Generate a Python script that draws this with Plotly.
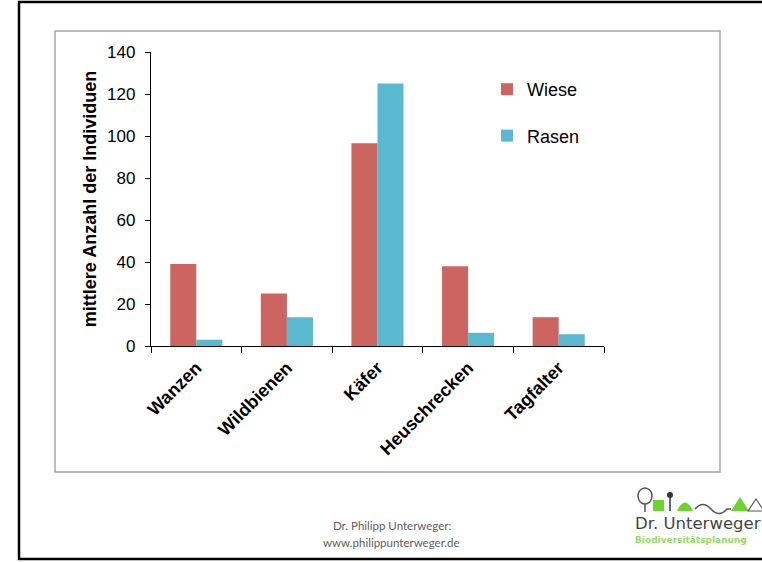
import plotly.graph_objects as go

# ---- data ----
categories = ["Wanzen", "Wildbienen", "Käfer", "Heuschrecken", "Tagfalter"]
wiese = [39, 25, 96.5, 38, 13.7]
rasen = [3, 13.7, 125, 6.3, 5.6]
series_names = ["Wiese", "Rasen"]
y_ticks = [0, 20, 40, 60, 80, 100, 120, 140]
y_title = "mittlere Anzahl der Individuen"
footer_lines = ["Dr. Philipp Unterweger:", "www.philippunterweger.de"]
logo_name = "Dr. Unterweger"
logo_sub = "Biodiversitätsplanung"

# ---- geometry ----
W, H = 762, 562
L, R, T, B = 151, 158, 52, 216
PW, PH = W - L - R, H - T - B


def px(x):
    return (x - L) / PW


def py(y):
    return (H - B - y) / PH


FONT = "Liberation Sans, Arial, sans-serif"
RED = "#CC6560"
BLUE = "#5BB8D1"

fig = go.Figure()
fig.add_trace(go.Bar(x=categories, y=wiese, name=series_names[0],
                     marker=dict(color=RED, line=dict(width=0)),
                     legendgroup="a"))
fig.add_trace(go.Bar(x=categories, y=rasen, name=series_names[1],
                     marker=dict(color=BLUE, line=dict(width=0)),
                     legendgroup="b"))

shapes = []
# outer slide frame (black)
shapes.append(dict(type="rect", xref="paper", yref="paper",
                   x0=px(19), x1=px(820), y0=py(559), y1=py(2),
                   line=dict(color="black", width=2.5), layer="below"))
# inner chart box (gray)
shapes.append(dict(type="rect", xref="paper", yref="paper",
                   x0=px(55), x1=px(720), y0=py(472), y1=py(31),
                   line=dict(color="#A6A6A6", width=1.5), layer="below"))

# logo approximation (decoration)
GREEN = "#6CD42C"
GRAY = "#555555"
shapes += [
    dict(type="circle", xref="paper", yref="paper",
         x0=px(638), x1=px(652), y0=py(504), y1=py(488),
         line=dict(color=GRAY, width=1.5)),
    dict(type="line", xref="paper", yref="paper",
         x0=px(645), x1=px(645), y0=py(512), y1=py(504),
         line=dict(color=GRAY, width=1.5)),
    dict(type="rect", xref="paper", yref="paper",
         x0=px(653), x1=px(664), y0=py(511), y1=py(500),
         fillcolor=GREEN, line=dict(width=0)),
    dict(type="circle", xref="paper", yref="paper",
         x0=px(667), x1=px(673), y0=py(498), y1=py(492),
         fillcolor="#333333", line=dict(width=0)),
    dict(type="line", xref="paper", yref="paper",
         x0=px(670), x1=px(670), y0=py(511), y1=py(498),
         line=dict(color="#333333", width=1.5)),
    dict(type="path", xref="paper", yref="paper",
         path="M {a},{b} Q {c},{d} {e},{b} Z".format(
             a=px(677), b=py(511), c=px(685), d=py(494), e=px(693)),
         fillcolor=GREEN, line=dict(width=0)),
    dict(type="path", xref="paper", yref="paper",
         path="M {a},{b} Q {c},{d} {e},{b} T {f},{b} L {g},{b}".format(
             a=px(695), b=py(509), c=px(703), d=py(500), e=px(711),
             f=px(727), g=px(731)),
         line=dict(color=GRAY, width=1.5)),
    dict(type="path", xref="paper", yref="paper",
         path="M {a},{b} L {c},{d} L {e},{b} Z".format(
             a=px(731), b=py(511), c=px(740), d=py(497), e=px(749)),
         fillcolor=GREEN, line=dict(width=0)),
    dict(type="path", xref="paper", yref="paper",
         path="M {a},{b} L {c},{d} L {e},{b} Z".format(
             a=px(748), b=py(511), c=px(756), d=py(499), e=px(764)),
         line=dict(color=GRAY, width=1.2)),
]

annotations = [
    dict(text=footer_lines[0], xref="paper", yref="paper",
         x=px(392), y=py(525), xanchor="center", yanchor="middle",
         showarrow=False, font=dict(family="Lato, Open Sans, sans-serif",
                                    size=11.5, color="#606060")),
    dict(text=footer_lines[1], xref="paper", yref="paper",
         x=px(391), y=py(542), xanchor="center", yanchor="middle",
         showarrow=False, font=dict(family="Lato, Open Sans, sans-serif",
                                    size=11.5, color="#606060")),
    dict(text=logo_name, xref="paper", yref="paper",
         x=px(633), y=py(523), xanchor="left", yanchor="middle",
         showarrow=False, font=dict(family="DejaVu Sans", size=16.5,
                                    color="#444444")),
    dict(text=logo_sub, xref="paper", yref="paper",
         x=px(633), y=py(540), xanchor="left", yanchor="middle",
         showarrow=False, font=dict(family="DejaVu Sans", size=9,
                                    color="#95DC66", weight="bold")),
]

fig.update_layout(
    width=W, height=H,
    margin=dict(l=L, r=R, t=T, b=B, pad=0, autoexpand=False),
    paper_bgcolor="white", plot_bgcolor="white",
    font=dict(family=FONT, color="black"),
    barmode="group", bargap=0.425, bargroupgap=0,
    showlegend=True,
    legend=dict(x=px(487), y=py(71), xanchor="left", yanchor="top",
                font=dict(family=FONT, size=18, color="black"),
                tracegroupgap=20, bgcolor="rgba(0,0,0,0)",
                traceorder="grouped"),
    shapes=shapes,
    annotations=annotations,
)

fig.update_xaxes(
    type="category", showline=True, linecolor="black", linewidth=1.3,
    ticks="outside", tickson="boundaries", ticklen=6, tickwidth=1.3,
    tickcolor="black", tickangle=-45, showgrid=False, zeroline=False,
    tickfont=dict(family=FONT, size=18, color="black", weight="bold"),
    ticklabelstandoff=3,
    automargin=False,
)
fig.update_yaxes(
    range=[0, 140], tickvals=y_ticks, showline=True, linecolor="black",
    linewidth=1.3, ticks="outside", ticklen=5, tickwidth=1.3,
    tickcolor="black", showgrid=False, zeroline=False,
    tickfont=dict(family=FONT, size=17, color="black"),
    ticklabelstandoff=6,
    title=dict(text=y_title, standoff=5,
               font=dict(family=FONT, size=18, color="black", weight="bold")),
    automargin=False,
)

fig.write_html("out.html")
